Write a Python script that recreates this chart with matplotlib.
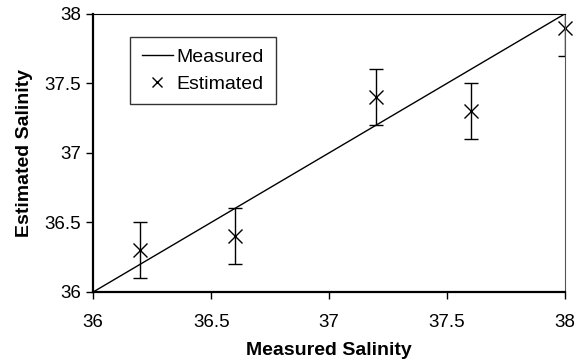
import matplotlib
matplotlib.use('Agg')
import matplotlib.pyplot as plt

plt.rcParams['font.family'] = ['Liberation Sans', 'DejaVu Sans']

# data
measured_line = [36, 38]
meas_x = [36.2, 36.6, 37.2, 37.6, 38.0]
est_y = [36.3, 36.4, 37.4, 37.3, 37.9]
est_err = [0.2, 0.2, 0.2, 0.2, 0.2]

fig = plt.figure(figsize=(5.83, 3.64), dpi=100)
ax = fig.add_axes([0.16, 0.198, 0.809, 0.764])

ax.plot(measured_line, measured_line, color='black', lw=1.0, label='Measured')
ax.errorbar(meas_x, est_y, yerr=est_err, fmt='none', ecolor='black',
            elinewidth=1.0, capsize=5, capthick=1.0)
ax.plot(meas_x, est_y, 'x', color='black', ms=9.5, mew=1.0, label='Estimated',
        clip_on=False)

ax.set_xlim(36, 38)
ax.set_ylim(36, 38)
ax.set_xticks([36, 36.5, 37, 37.5, 38])
ax.set_xticklabels(['36', '36.5', '37', '37.5', '38'])
ax.set_yticks([36, 36.5, 37, 37.5, 38])
ax.set_yticklabels(['36', '36.5', '37', '37.5', '38'])
ax.tick_params(direction='out', length=5, width=1.0, labelsize=13.5, colors='black')
ax.tick_params(axis='x', pad=11)
ax.tick_params(axis='y', pad=4)

for s in ['left', 'bottom']:
    ax.spines[s].set_linewidth(1.6)
for s in ['top', 'right']:
    ax.spines[s].set_linewidth(0.8)
ax.spines['right'].set_color('#555555')

ax.set_xlabel('Measured Salinity', fontsize=14, fontweight='bold', labelpad=8)
ax.set_ylabel('Estimated Salinity', fontsize=14, fontweight='bold', labelpad=8)

leg = ax.legend(loc='upper left', bbox_to_anchor=(0.078, 0.917), borderaxespad=0,
                fontsize=14, frameon=True, fancybox=False, edgecolor='black',
                handlelength=1.6, borderpad=0.6, labelspacing=0.45,
                handletextpad=0.2, markerscale=0.7)
leg.get_frame().set_linewidth(1.0)

fig.savefig('out.png', dpi=100)
